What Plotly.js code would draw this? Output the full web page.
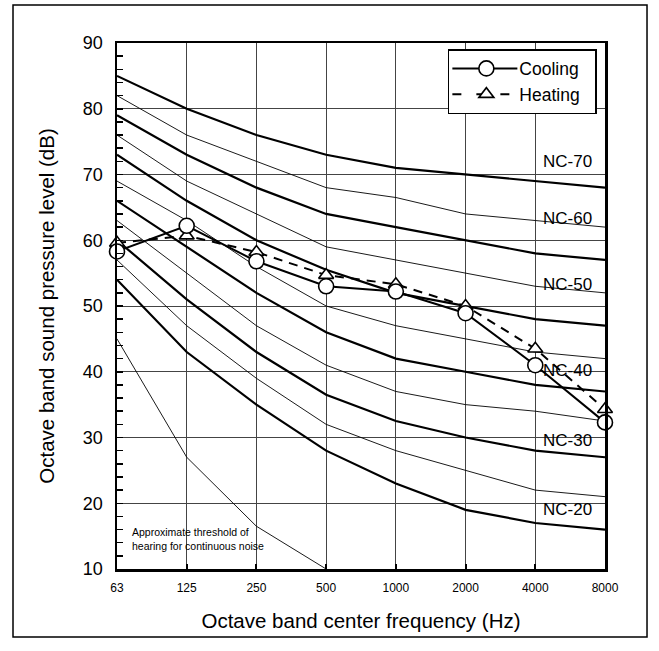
<!DOCTYPE html>
<html>
<head>
<meta charset="utf-8">
<script src="https://cdn.plot.ly/plotly-3.0.1.min.js"></script>
<style>html,body{margin:0;padding:0;background:#fff;}#chart{width:659px;height:651px;}</style>
</head>
<body>
<div id="chart"></div>
<script>
// ---- data ----
const freqs = ['63', '125', '250', '500', '1000', '2000', '4000', '8000'];
const nc70 = [85, 80, 76, 73, 71, 70, 69, 68];
const nc65 = [82, 76, 72, 68, 66.5, 64, 63, 62];
const nc60 = [79, 73, 68, 64, 62, 60, 58, 57];
const nc55 = [76, 69, 64, 59, 57, 55, 53, 52];
const nc50 = [73, 66, 60, 55.5, 52, 50, 48, 47];
const nc45 = [69, 63, 56, 50, 47, 45, 43, 42];
const nc40 = [66, 59, 52, 46, 42, 40, 38, 37];
const nc35 = [63, 55, 47, 41, 37, 35, 34, 32.5];
const nc30 = [60, 51, 43, 36.5, 32.5, 30, 28, 27];
const nc25 = [57, 47, 39, 32, 28, 25, 22, 21];
const nc20 = [54, 43, 35, 28, 23, 19, 17, 16];
const thresholdFreqs = ['63', '125', '250', '500'];
const threshold = [45, 27, 16.5, 10];
const cooling = [58.3, 62.2, 56.8, 53.0, 52.2, 48.9, 41.0, 32.3];
const heating = [59.6, 60.7, 58.2, 54.7, 53.3, 50.0, 43.5, 34.3];
const seriesNames = ['Cooling', 'Heating'];
const ncLabels = ['NC-70', 'NC-60', 'NC-50', 'NC-40', 'NC-30', 'NC-20'];
const ncLabelLevels = [72, 63.3, 53.3, 40.2, 29.6, 19.1];

const FONT = '"Liberation Sans", Arial, Helvetica, sans-serif';
const PAD = '\u00a0\u00a0';

function ncTrace(y, thick) {
  return {
    x: freqs, y: y, type: 'scatter', mode: 'lines',
    line: {color: '#000', width: thick ? 2.2 : 0.9},
    showlegend: false, hoverinfo: 'skip'
  };
}

const traces = [
  ncTrace(nc70, true), ncTrace(nc65, false), ncTrace(nc60, true), ncTrace(nc55, false),
  ncTrace(nc50, true), ncTrace(nc45, false), ncTrace(nc40, true), ncTrace(nc35, false),
  ncTrace(nc30, true), ncTrace(nc25, false), ncTrace(nc20, true),
  {x: thresholdFreqs, y: threshold, type: 'scatter', mode: 'lines',
   line: {color: '#000', width: 0.9}, showlegend: false, hoverinfo: 'skip'},
  {x: freqs, y: heating, type: 'scatter', mode: 'lines+markers', name: seriesNames[1] + PAD,
   line: {color: '#000', width: 2, dash: '9px,7px'},
   marker: {symbol: 'triangle-up', size: 13, color: '#fff', line: {color: '#000', width: 1.6}},
   cliponaxis: false},
  {x: freqs, y: cooling, type: 'scatter', mode: 'lines+markers', name: seriesNames[0] + PAD,
   line: {color: '#000', width: 2},
   marker: {symbol: 'circle', size: 15, color: '#fff', line: {color: '#000', width: 1.6}},
   cliponaxis: false}
];

const annotations = ncLabels.map((t, i) => ({
  text: t, x: 6.46, y: ncLabelLevels[i], xref: 'x', yref: 'y',
  showarrow: false, xanchor: 'center', yanchor: 'middle',
  font: {family: FONT, size: 17, color: '#000'}
}));
annotations.push({
  text: 'Approximate threshold of<br>hearing for continuous noise',
  x: 0.19, y: 14.6, xref: 'x', yref: 'y', showarrow: false,
  xanchor: 'left', yanchor: 'middle', align: 'left',
  font: {family: FONT, size: 10.5, color: '#000'}
});

const layout = {
  width: 659, height: 651,
  margin: {l: 117, r: 54, t: 43, b: 82},
  paper_bgcolor: '#fff', plot_bgcolor: '#fff',
  font: {family: FONT, color: '#000'},
  showlegend: true,
  legend: {
    x: 0.678, y: 0.9885, xanchor: 'left', yanchor: 'top',
    bgcolor: '#fff', bordercolor: '#000', borderwidth: 1.5,
    font: {family: FONT, size: 17.5, color: '#000'},
    traceorder: 'reversed', itemwidth: 60, tracegroupgap: 0
  },
  xaxis: {
    type: 'category', range: [0, 7],
    showgrid: true, gridcolor: '#444', gridwidth: 1,
    showline: true, linecolor: '#000', linewidth: 2.5, mirror: true,
    ticks: 'inside', ticklen: 5, tickwidth: 2, tickcolor: '#000',
    tickfont: {family: FONT, size: 12, color: '#000'},
    ticklabelstandoff: 6,
    title: {text: 'Octave band center frequency (Hz)', font: {family: FONT, size: 20.5, color: '#000'}, standoff: 20},
    automargin: false, zeroline: false
  },
  yaxis: {
    range: [10, 90], dtick: 10,
    showgrid: true, gridcolor: '#444', gridwidth: 1,
    showline: true, linecolor: '#000', linewidth: 2.5, mirror: true,
    ticks: 'inside', ticklen: 6, tickwidth: 1.5, tickcolor: '#000',
    minor: {dtick: 2, ticks: 'inside', ticklen: 6, tickwidth: 1.5, tickcolor: '#000', showgrid: false},
    tickfont: {family: FONT, size: 18, color: '#000'},
    ticklabelstandoff: 8,
    title: {text: 'Octave band sound pressure level (dB)', font: {family: FONT, size: 20.5, color: '#000'}, standoff: 23},
    automargin: false, zeroline: false
  },
  shapes: [{
    type: 'rect', xref: 'paper', yref: 'paper',
    x0: -0.2131, x1: 1.0861, y0: -0.1293, y1: 1.0722,
    line: {color: '#000', width: 1.5}, fillcolor: 'rgba(0,0,0,0)', layer: 'below'
  }],
  annotations: annotations
};

Plotly.newPlot('chart', traces, layout, {staticPlot: true, displayModeBar: false}).then(function (gd) {
  // lengthen legend sample lines like the original key
  gd.querySelectorAll('.legend .traces').forEach(function (item) {
    var ln = item.querySelector('.legendlines path');
    if (ln) {
      ln.setAttribute('d', 'M3,0h65');
      if ((ln.style.strokeDasharray || '') !== '') ln.style.strokeDasharray = '9px,15px';
    }
    item.querySelectorAll('.legendpoints path').forEach(function (p) {
      p.setAttribute('transform', 'translate(37,0)');
    });
  });
});
</script>
</body>
</html>
